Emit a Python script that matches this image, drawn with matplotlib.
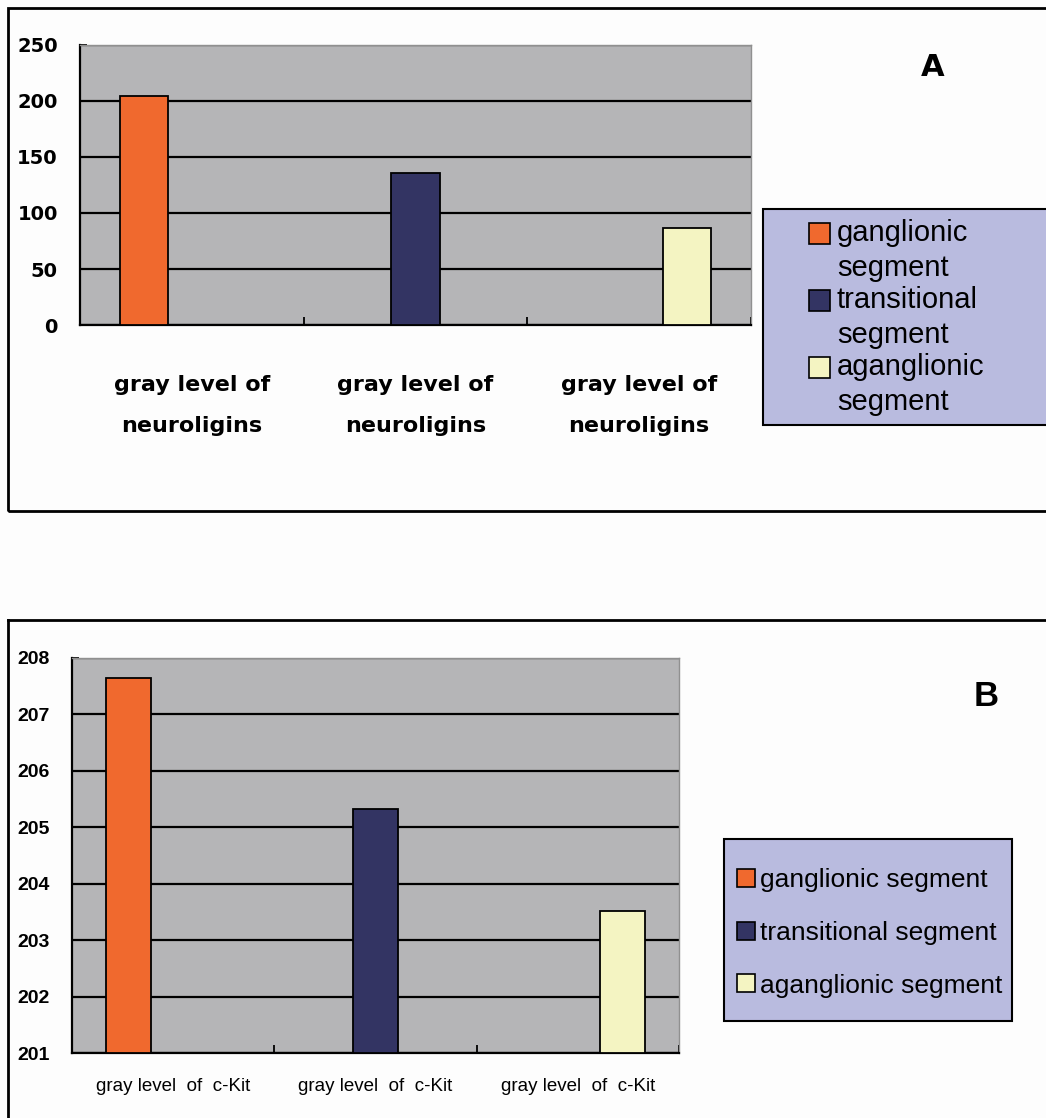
import matplotlib
matplotlib.use('Agg')
import matplotlib.pyplot as plt
from matplotlib.patches import Rectangle, Patch
from matplotlib.lines import Line2D
from matplotlib.legend_handler import HandlerPatch
import numpy as np

# data
segments = ['ganglionic segment', 'transitional segment', 'aganglionic segment']
seg_labels_a = ['ganglionic\nsegment', 'transitional\nsegment', 'aganglionic\nsegment']
colors = ['#f0692e', '#333463', '#f4f4c2']

cats_a = ['gray level of\n\nneuroligins'] * 3
vals_a = [204.5, 135.5, 86.5]
yticks_a = [0, 50, 100, 150, 200, 250]

cats_b = ['gray level  of  c-Kit'] * 3
vals_b = [207.65, 205.33, 203.52]
yticks_b = [201, 202, 203, 204, 205, 206, 207, 208]

W, H = 1046, 1118
fig = plt.figure(figsize=(W / 100, H / 100), dpi=100)
fig.patch.set_facecolor('#fdfdfd')

def fx(px):
    return px / W

def fy(py):
    return 1 - py / H

plot_bg = '#b5b5b7'


def draw_panel(ax, vals, cats, yticks, ylim, width, tick_font, cat_font, xpad):
    ax.set_facecolor(plot_bg)
    x = np.arange(len(vals))
    for i, v in enumerate(vals):
        ax.bar(x[i] + (i - 1) * width, v - ylim[0], width, bottom=ylim[0],
               color=colors[i], edgecolor='black', linewidth=1.3, zorder=3)
    ax.set_xlim(-0.5, len(vals) - 0.5)
    ax.set_ylim(*ylim)
    ax.set_yticks(yticks)
    ax.yaxis.grid(True, color='black', linewidth=1.6, zorder=1)
    ax.set_axisbelow(True)
    for s in ['top', 'right']:
        ax.spines[s].set_color('#909090')
        ax.spines[s].set_linewidth(1)
    for s in ['left', 'bottom']:
        ax.spines[s].set_color('black')
        ax.spines[s].set_linewidth(1.6)
    ax.set_xticks(x)
    ax.set_xticklabels(cats, **cat_font)
    ax.tick_params(axis='x', length=0, pad=xpad)
    ax.set_xticks(np.arange(len(vals) + 1) - 0.5, minor=True)
    ax.tick_params(axis='x', which='minor', direction='in', length=6, width=1.3)
    ax.tick_params(axis='y', direction='in', length=5, width=1.3, pad=16)
    for lbl in ax.get_yticklabels():
        lbl.set(**tick_font)


# legend square that sits on the first line of a two-line label
def top_square(legend, orig_handle, xdescent, ydescent, width, height, fontsize):
    return Rectangle((-xdescent, -ydescent + 12.6), width, height)


# panel A
fig.add_artist(Rectangle((fx(8), fy(511)), 1.2, fy(8) - fy(511), transform=fig.transFigure,
                         fill=False, edgecolor='black', linewidth=2))
axA = fig.add_axes([fx(80), fy(325), fx(751) - fx(80), fy(45) - fy(325)])
draw_panel(axA, vals_a, cats_a, yticks_a, (0, 250), 0.215,
           dict(family='DejaVu Sans', weight='bold', size=14),
           dict(family='DejaVu Sans', weight='bold', size=16, linespacing=1.04), 36)
fig.text(fx(933), fy(67), 'A', ha='center', va='center', fontsize=22, weight='bold',
         family='DejaVu Sans')
fig.add_artist(Rectangle((fx(763), fy(425)), 1.0, fy(209) - fy(425), transform=fig.transFigure,
                         facecolor='#b9bbdf', edgecolor='black', linewidth=1.5))
hA = [Patch(facecolor=c, edgecolor='black', linewidth=1.2) for c in colors]
fig.legend(hA, seg_labels_a, loc='upper left', bbox_to_anchor=(fx(797), fy(207)),
           frameon=False, prop=dict(family='Liberation Sans', size=21),
           handlelength=0.72, handleheight=0.72, handletextpad=0.25, labelspacing=0.12,
           borderaxespad=0,
           handler_map={Patch: HandlerPatch(patch_func=top_square)})
for t in fig.legends[-1].get_texts():
    t.set_linespacing(1.34)

# panel B
fig.add_artist(Line2D([fx(8), 1.0], [fy(620), fy(620)], color='black', linewidth=2))
fig.add_artist(Line2D([fx(8), fx(8)], [fy(620), 0], color='black', linewidth=2))
axB = fig.add_axes([fx(72), fy(1053), fx(679) - fx(72), fy(658) - fy(1053)])
draw_panel(axB, vals_b, cats_b, yticks_b, (201, 208), 0.222,
           dict(family='Liberation Sans', weight='bold', size=14),
           dict(family='Liberation Sans', size=13.5), 18)
fig.text(fx(986), fy(697), 'B', ha='center', va='center', fontsize=25, weight='bold',
         family='Liberation Sans')
fig.add_artist(Rectangle((fx(724), fy(1021)), fx(1012) - fx(724), fy(839) - fy(1021),
                         transform=fig.transFigure, facecolor='#b9bbdf', edgecolor='black',
                         linewidth=1.5))
hB = [Patch(facecolor=c, edgecolor='black', linewidth=1.2) for c in colors]
fig.legend(hB, segments, loc='center left', bbox_to_anchor=(fx(726), fy(933)),
           frameon=False, prop=dict(family='Liberation Sans', size=19),
           handlelength=0.68, handleheight=0.68, handletextpad=0.22, labelspacing=1.08,
           borderaxespad=0)

fig.savefig('out.png', dpi=100, facecolor=fig.get_facecolor())
